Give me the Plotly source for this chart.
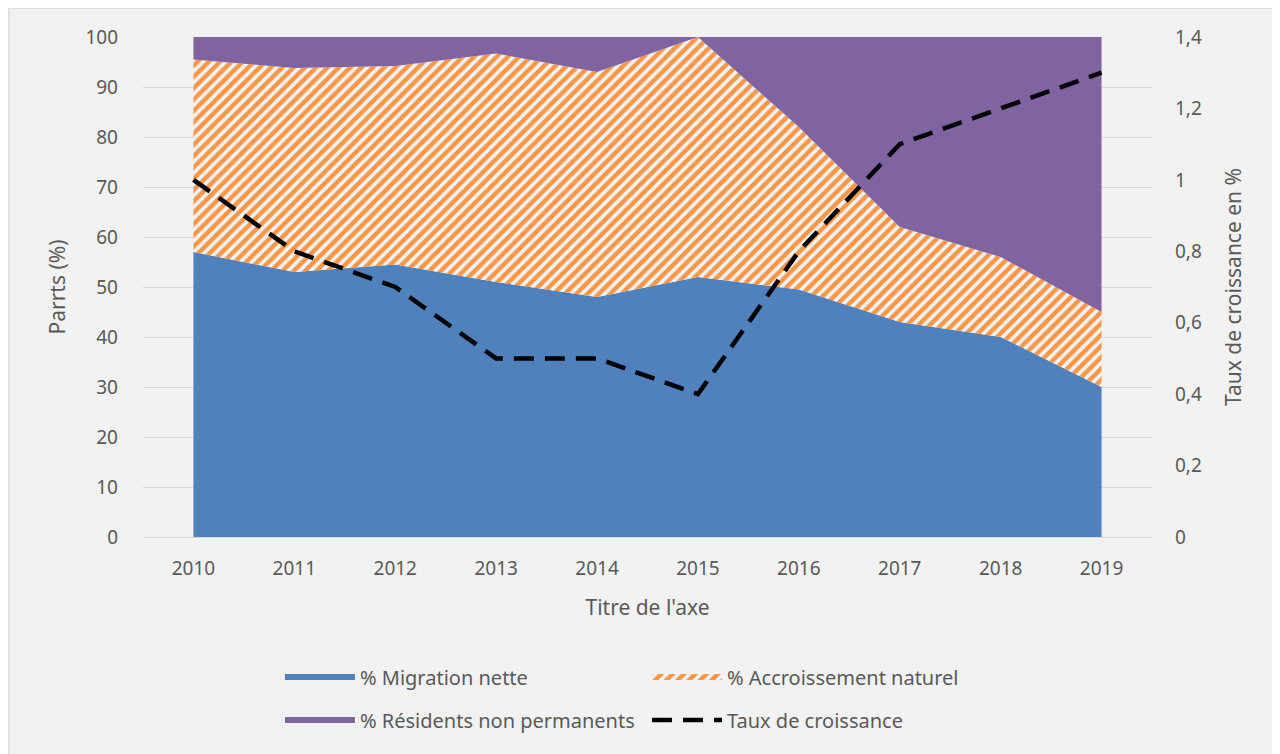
import plotly.graph_objects as go

# données
annees = ["2010", "2011", "2012", "2013", "2014", "2015", "2016", "2017", "2018", "2019"]
migration_nette = [57, 53, 54.5, 51, 48, 52, 49.5, 43, 40, 30]
accroissement_naturel = [38.5, 40.8, 39.7, 45.7, 45, 48, 32.5, 19, 16, 15]
residents_non_permanents = [4.5, 6.2, 5.8, 3.3, 7, 0, 18, 38, 44, 55]
taux_croissance = [1.0, 0.8, 0.7, 0.5, 0.5, 0.4, 0.8, 1.1, 1.2, 1.3]

FONT = "Noto Sans"
GRIS = "#595959"
BLEU = "#4F81BD"
ORANGE = "#F79646"
VIOLET = "#8064A2"

# la page ajoute une marge de 8 px autour de la figure
OFF = 8
W, H = 1280 - OFF, 754 - OFF
# zone de tracé en pixels (coordonnées de la page)
L, R, T, B = 143, 1152, 37, 537


def px_x(p):
    return (p - L) / (R - L)


def px_y(p):
    return (B - p) / (B - T)


fig = go.Figure()

fig.add_trace(go.Scatter(
    x=annees, y=migration_nette, name="% Migration nette",
    stackgroup="one", mode="none", fillcolor=BLEU, legend="legend",
))
fig.add_trace(go.Scatter(
    x=annees, y=accroissement_naturel, name="% Accroissement naturel",
    stackgroup="one", mode="none", fillcolor=ORANGE, legend="legend",
    fillpattern=dict(shape="/", fgcolor=ORANGE, bgcolor="#F2F2F2",
                     fgopacity=1, size=8, solidity=0.55),
))
fig.add_trace(go.Scatter(
    x=annees, y=residents_non_permanents, name="% Résidents non permanents",
    stackgroup="one", mode="none", fillcolor=VIOLET, legend="legend2",
))
fig.add_trace(go.Scatter(
    x=annees, y=taux_croissance, name="Taux de croissance", yaxis="y2",
    mode="lines", line=dict(color="black", width=4.5, dash="20px,11px"),
    legend="legend2",
))

legende = dict(
    orientation="h", xanchor="left", yanchor="middle",
    entrywidth=282, entrywidthmode="pixels", bgcolor="rgba(0,0,0,0)",
    font=dict(size=20), itemwidth=70, traceorder="normal",
)

fig.update_layout(
    width=W, height=H,
    margin=dict(l=L - OFF, r=1280 - R, t=T - OFF, b=754 - B),
    paper_bgcolor="white",
    plot_bgcolor="rgba(0,0,0,0)",
    separators=", ",
    font=dict(family=FONT, size=19, color=GRIS),
    xaxis=dict(
        type="category", range=[-0.5, 9.5],
        showline=True, linecolor="#D9D9D9", linewidth=1,
        showgrid=False, ticks="", ticklabelstandoff=14,
        title=dict(text="Titre de l'axe", font=dict(size=21), standoff=20),
    ),
    yaxis=dict(
        range=[0, 100], dtick=10, showgrid=True, gridcolor="#D9D9D9",
        zeroline=False, ticks="", ticklabelstandoff=24,
        title=dict(text="Parrts (%)", font=dict(size=21), standoff=14),
    ),
    yaxis2=dict(
        range=[0, 1.4], dtick=0.2, overlaying="y", side="right",
        showgrid=False, zeroline=False, ticks="", ticklabelstandoff=22,
        title=dict(text="Taux de croissance en %", font=dict(size=21), standoff=25),
    ),
    legend=dict(legende, x=px_x(285) - 0.005, y=px_y(677)),
    legend2=dict(legende, x=px_x(285) - 0.005, y=px_y(720)),
    shapes=[dict(
        type="rect", xref="paper", yref="paper", layer="below",
        x0=px_x(9), x1=px_x(1279), y0=px_y(770), y1=px_y(8),
        fillcolor="#F2F2F2", line=dict(color="#D9D9D9", width=1.5),
    )],
)

fig.write_html("out.html")
